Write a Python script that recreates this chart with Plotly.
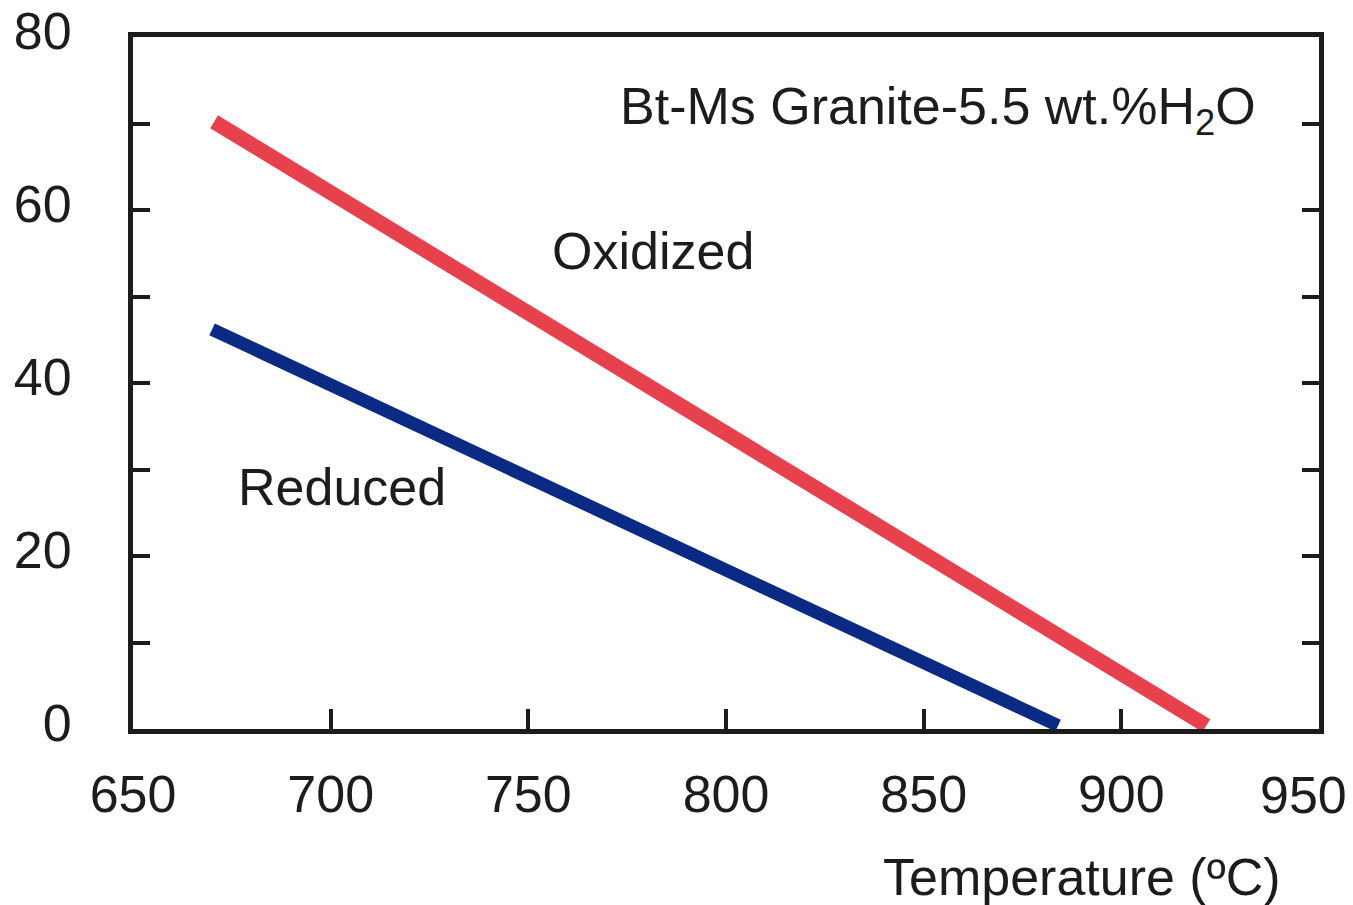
import plotly.graph_objects as go

# values
oxidized_temp = [670.5, 921.5]
oxidized_val = [70.2, 0.4]
reduced_temp = [670.0, 884.0]
reduced_val = [46.2, 0.4]

y_tickvals = [0, 10, 20, 30, 40, 50, 60, 70, 80]
y_ticktext = ["0", "", "20", "", "40", "", "60", "", "80"]
x_tickvals = [650, 700, 750, 800, 850, 900, 950]
x_ticktext = ["650", "700", "750", "800", "850", "900", ""]

FONT = "Liberation Sans, Arial, Helvetica, sans-serif"
FS = 52
INK = "#1c1c1c"
RED = "#E8414E"
BLUE = "#0B2A84"

fig = go.Figure()
fig.add_trace(
    go.Scatter(
        x=oxidized_temp,
        y=oxidized_val,
        mode="lines",
        line=dict(color=RED, width=15),
        name="Oxidized",
    )
)
fig.add_trace(
    go.Scatter(
        x=reduced_temp,
        y=reduced_val,
        mode="lines",
        line=dict(color=BLUE, width=13),
        name="Reduced",
    )
)

fig.add_annotation(
    x=755.5, y=55.3, xref="x", yref="y",
    text="Oxidized", showarrow=False, xanchor="left", yanchor="middle",
    font=dict(size=FS, color=INK, family=FONT),
)
fig.add_annotation(
    x=676, y=28.0, xref="x", yref="y",
    text="Reduced", showarrow=False, xanchor="left", yanchor="middle",
    font=dict(size=FS, color=INK, family=FONT),
)
fig.add_annotation(
    x=934.5, y=71.6, xref="x", yref="y",
    text="Bt-Ms Granite-5.5 wt.%H<sub>2</sub>O", showarrow=False,
    xanchor="right", yanchor="middle",
    font=dict(size=FS, color=INK, family=FONT),
)
# last x tick label sits pulled in from the right edge
fig.add_annotation(
    x=950, y=-0.095, xref="x", yref="paper", xshift=-16,
    text="950", showarrow=False, xanchor="center", yanchor="middle",
    font=dict(size=FS, color=INK, family=FONT),
)
fig.add_annotation(
    x=0.97, y=-0.214, xref="paper", yref="paper",
    text="Temperature (ºC)", showarrow=False, xanchor="right", yanchor="middle",
    font=dict(size=FS, color=INK, family=FONT),
)

# page body has an 8px margin, so the figure is made 8px smaller each way
fig.update_layout(
    width=1345,
    height=897,
    margin=dict(l=125, r=34, t=29, b=176),
    paper_bgcolor="white",
    plot_bgcolor="white",
    showlegend=False,
    font=dict(family=FONT, size=FS, color=INK),
    xaxis=dict(
        range=[650, 950],
        tickvals=x_tickvals,
        ticktext=x_ticktext,
        ticks="inside",
        ticklen=20,
        tickwidth=4,
        tickcolor=INK,
        showline=True,
        linewidth=5,
        linecolor=INK,
        mirror=True,
        showgrid=False,
        zeroline=False,
        ticklabelstandoff=16,
        ticklabeloverflow="allow",
        automargin=False,
    ),
    yaxis=dict(
        range=[0, 80],
        tickvals=y_tickvals,
        ticktext=y_ticktext,
        ticks="inside",
        ticklen=17,
        tickwidth=4,
        tickcolor=INK,
        showline=True,
        linewidth=5,
        linecolor=INK,
        mirror="ticks",
        showgrid=False,
        zeroline=False,
        ticklabelstandoff=46,
        ticklabelshift=-6,
        ticklabeloverflow="allow",
        automargin=False,
    ),
)

fig.write_html("out.html")
